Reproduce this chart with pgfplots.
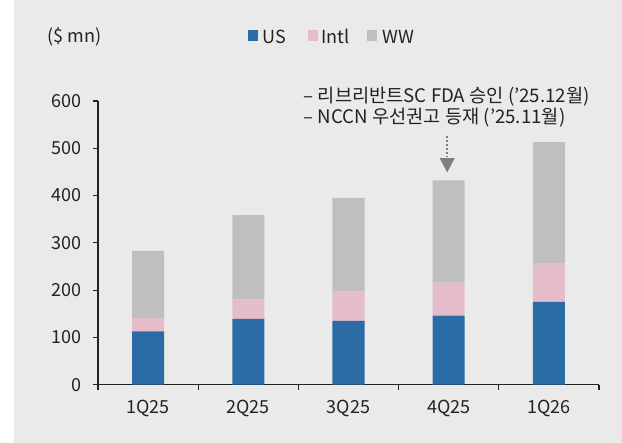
\documentclass[border=0pt]{standalone}
\usepackage{fontspec}
\setmainfont{Noto Sans CJK KR}
\usepackage{pgfplots}
\pgfplotsset{compat=1.18}
\definecolor{bg}{HTML}{EAEAEA}
\definecolor{usblue}{HTML}{2C6CA6}
\definecolor{intlpink}{HTML}{E5BCCA}
\definecolor{wwgray}{HTML}{BFBFBF}
\definecolor{txt}{HTML}{222222}
\definecolor{arrowgray}{HTML}{7F7F7F}
\begin{document}
\begin{tikzpicture}[x=0.75pt,y=0.75pt]
\fill[white] (0,0) rectangle (622,443);
\fill[bg] (14,0) rectangle (622,443);
\tikzset{lab/.style={anchor=west,inner sep=0pt,text=txt,font=\fontsize{13.5}{16}\selectfont}}
\node[lab] at (47,406) {(\$ mn)};
% legend
\fill[usblue] (248,402) rectangle (258,413);
\node[lab] at (262,406.5) {US};
\fill[intlpink] (307.5,402) rectangle (317.5,413);
\node[lab] at (321,406.5) {Intl};
\fill[wwgray] (367,402) rectangle (377,413);
\node[lab] at (382,406.5) {WW};
% annotation
\node[lab,font=\fontsize{14}{16}\selectfont] at (303.5,346) {– 리브리반트SC FDA 승인 ('25.12월)};
\node[lab,font=\fontsize{14}{16}\selectfont] at (303.5,325) {– NCCN 우선권고 등재 ('25.11월)};
\begin{axis}[
  at={(73.5pt,43.725pt)}, anchor=south west,
  scale only axis, width=375.75pt, height=212.8pt,
  xmin=-0.5, xmax=4.5, ymin=0, ymax=600,
  ybar stacked, bar width=0.32,
  axis x line=bottom, axis y line=left,
  axis line style={-, draw=txt, line width=0.9pt},
  xtick={0,1,2,3,4}, xticklabels={1Q25,2Q25,3Q25,4Q25,1Q26},
  major x tick style={draw=none},
  minor xtick={-0.5,0.5,1.5,2.5,3.5,4.5},
  ytick={0,100,...,600},
  tick align=outside,
  major tick length=4pt, minor tick length=4pt,
  tick style={draw=txt, line width=0.9pt},
  ticklabel style={font=\fontsize{13.5}{16}\selectfont, text=txt},
  yticklabel style={xshift=-5pt},
  xticklabel style={yshift=-4pt},
  /pgf/number format/assume math mode=true,
  clip=false,
]
\addplot[fill=usblue, draw=none] coordinates {(0,113) (1,139) (2,135) (3,146) (4,175)};
\addplot[fill=intlpink, draw=none] coordinates {(0,28) (1,41.5) (2,62) (3,70) (4,82)};
\addplot[fill=wwgray, draw=none] coordinates {(0,142) (1,178) (2,198) (3,216) (4,256)};
\draw[arrowgray, line width=1.6pt, dash pattern=on 1.5pt off 1.5pt] (axis cs:2.985,526) -- (axis cs:2.985,481);
\fill[arrowgray] (axis cs:2.91,479) -- (axis cs:3.06,479) -- (axis cs:2.985,449) -- cycle;
\end{axis}
\end{tikzpicture}
\end{document}
